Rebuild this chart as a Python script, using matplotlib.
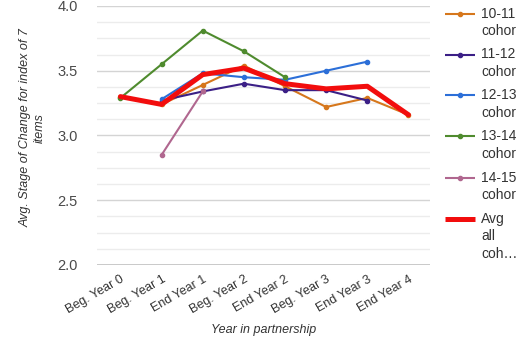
import numpy as np
import matplotlib
matplotlib.use("Agg")
import matplotlib.pyplot as plt
from matplotlib.lines import Line2D

plt.rcParams["font.family"] = ["Liberation Sans", "DejaVu Sans"]

categories = ["Beg. Year 0", "Beg. Year 1", "End Year 1", "Beg. Year 2",
              "End Year 2", "Beg. Year 3", "End Year 3", "End Year 4"]

nan = np.nan
cohort_10_11 = [3.30, 3.24, 3.39, 3.54, 3.38, 3.22, 3.29, 3.16]
cohort_11_12 = [nan, 3.27, 3.34, 3.40, 3.35, 3.35, 3.27, nan]
cohort_12_13 = [nan, 3.28, 3.48, 3.45, 3.43, 3.50, 3.57, nan]
cohort_13_14 = [3.29, 3.55, 3.81, 3.65, 3.45, nan, nan, nan]
cohort_14_15 = [nan, 2.85, 3.34, nan, nan, nan, nan, nan]
avg_all = [3.30, 3.24, 3.47, 3.52, 3.40, 3.36, 3.38, 3.16]

series = [
    ("10-11\ncohort", cohort_10_11, "#d6771c"),
    ("11-12\ncohort", cohort_11_12, "#3b1f86"),
    ("12-13\ncohort", cohort_12_13, "#2c6fd8"),
    ("13-14\ncohort", cohort_13_14, "#4f8b2e"),
    ("14-15\ncohort", cohort_14_15, "#b0678f"),
]
avg_label = "Avg\nall\ncoh…"
avg_color = "#f20d0d"

W, H = 516, 344
fig = plt.figure(figsize=(W / 100, H / 100), dpi=100)
ax = fig.add_axes([0.188, 0.2297, 0.645, 0.7529])

x = np.arange(len(categories))
for label, vals, col in series:
    ax.plot(x, vals, color=col, lw=1.5, marker="o", ms=3.0, zorder=3)
ax.plot(x, avg_all, color=avg_color, lw=3.6, solid_capstyle="round",
        solid_joinstyle="round", zorder=4)

ax.set_xlim(-0.57, 7.52)
ax.set_ylim(2.0, 4.0)
ax.set_yticks([2.0, 2.5, 3.0, 3.5, 4.0])
ax.set_yticks(np.arange(2.0, 4.0, 0.125), minor=True)
ax.grid(axis="y", which="major", color="#d4d4d4", lw=1.0, zorder=0)
ax.grid(axis="y", which="minor", color="#ececec", lw=1.0, zorder=0)
ax.axhline(2.0, color="#bdbdbd", lw=1.2, zorder=1)
for s in ax.spines.values():
    s.set_visible(False)
ax.tick_params(axis="both", which="both", length=0)
ax.tick_params(axis="y", pad=14, labelsize=10.5, labelcolor="#4a4a4a")
ax.set_yticklabels(["2.0", "2.5", "3.0", "3.5", "4.0"])
ax.set_xticks(x)
ax.set_xticklabels(categories, rotation=30, ha="right", rotation_mode="anchor",
                   fontsize=9, color="#333333")
ax.tick_params(axis="x", pad=6)

ax.set_xlabel("Year in partnership", fontsize=9, style="italic",
              color="#333333", labelpad=6)
ax.set_ylabel("Avg. Stage of Change for index of 7\nitems", fontsize=9,
              style="italic", color="#333333", linespacing=1.2)
ax.yaxis.set_label_coords(-0.155, 0.53)

# legend drawn by hand so each key lines up with the first line of its label
entries = [(lab, col, 1.5, True) for lab, _, col in series]
entries.append((avg_label, avg_color, 3.6, False))
leg_top = 13.5
leg_step = 41
for i, (lab, col, lw, mark) in enumerate(entries):
    yy = 1 - (leg_top + i * leg_step) / H
    fig.add_artist(Line2D([445 / W, 475 / W], [yy, yy], color=col, lw=lw,
                          transform=fig.transFigure, solid_capstyle="butt"))
    if mark:
        fig.add_artist(Line2D([460 / W], [yy], color=col, marker="o", ms=3.0,
                              transform=fig.transFigure))
    fig.text(481 / W, yy + 7 / H, lab, fontsize=10, color="#333333",
             va="top", ha="left", linespacing=1.35)

fig.savefig("out.png", dpi=100)
